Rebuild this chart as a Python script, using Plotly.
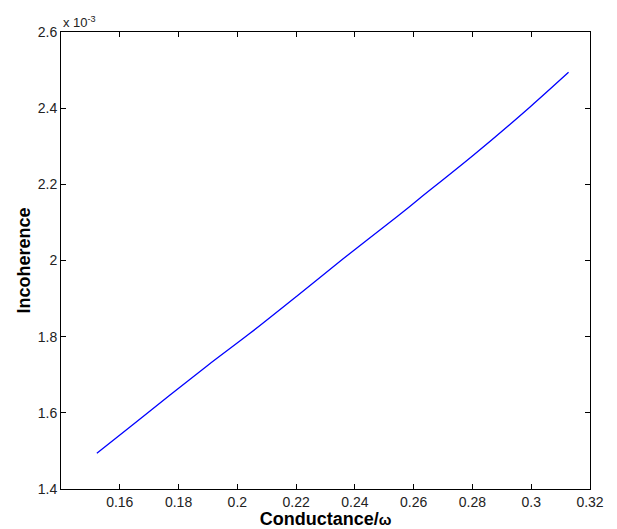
import plotly.graph_objects as go

# Conductance/omega (x) and Incoherence in units of 1e-3 (y)
conductance = [0.1522, 0.1640, 0.1771, 0.1900, 0.2043, 0.2200, 0.2359, 0.2543,
               0.2622, 0.2804, 0.2997, 0.3127]
incoherence = [1.4937, 1.5660, 1.6468, 1.7250, 1.8088, 1.9050, 2.0039, 2.1150,
               2.1640, 2.2770, 2.4039, 2.4942]
x_ticks = [0.16, 0.18, 0.20, 0.22, 0.24, 0.26, 0.28, 0.30, 0.32]
x_tick_text = ["0.16", "0.18", "0.2", "0.22", "0.24", "0.26", "0.28", "0.3", "0.32"]
y_ticks = [1.4, 1.6, 1.8, 2.0, 2.2, 2.4, 2.6]
y_tick_text = ["1.4", "1.6", "1.8", "2", "2.2", "2.4", "2.6"]

fig = go.Figure()
fig.add_trace(go.Scatter(x=conductance, y=incoherence, mode="lines",
                         line=dict(color="#0000ff", width=1.3, shape="spline", smoothing=0.8),
                         showlegend=False))

axis_common = dict(showgrid=False, zeroline=False, showline=True, linecolor="black",
                   linewidth=1, mirror="ticks", ticks="inside", ticklen=5,
                   tickcolor="black", tickwidth=1, automargin=False,
                   tickfont=dict(family="Liberation Sans, Arial", size=14, color="#222"))

fig.update_layout(
    width=617, height=529,
    margin=dict(l=61, r=27, t=32, b=40),
    paper_bgcolor="white", plot_bgcolor="white",
    xaxis=dict(range=[0.14, 0.32], tickvals=x_ticks, ticktext=x_tick_text,
               title=dict(text="<b>Conductance/<span style='font-size:15px'>ω</span></b>", standoff=4,
                          font=dict(family="Liberation Sans, Arial", size=18, color="black")),
               **axis_common),
    yaxis=dict(range=[1.4, 2.6], tickvals=y_ticks, ticktext=y_tick_text,
               title=dict(text="<b>Incoherence</b>", standoff=2,
                          font=dict(family="Liberation Sans, Arial", size=18, color="black")),
               **axis_common),
    annotations=[dict(x=0, y=1, xref="paper", yref="paper", xanchor="left", yanchor="bottom",
                      text="x 10<sup>-3</sup>", showarrow=False, yshift=0,
                      font=dict(family="Liberation Sans, Arial", size=13, color="#222"))],
)

fig.write_html("out.html", config={"displayModeBar": False},
               post_script="document.body.style.margin='0';")
